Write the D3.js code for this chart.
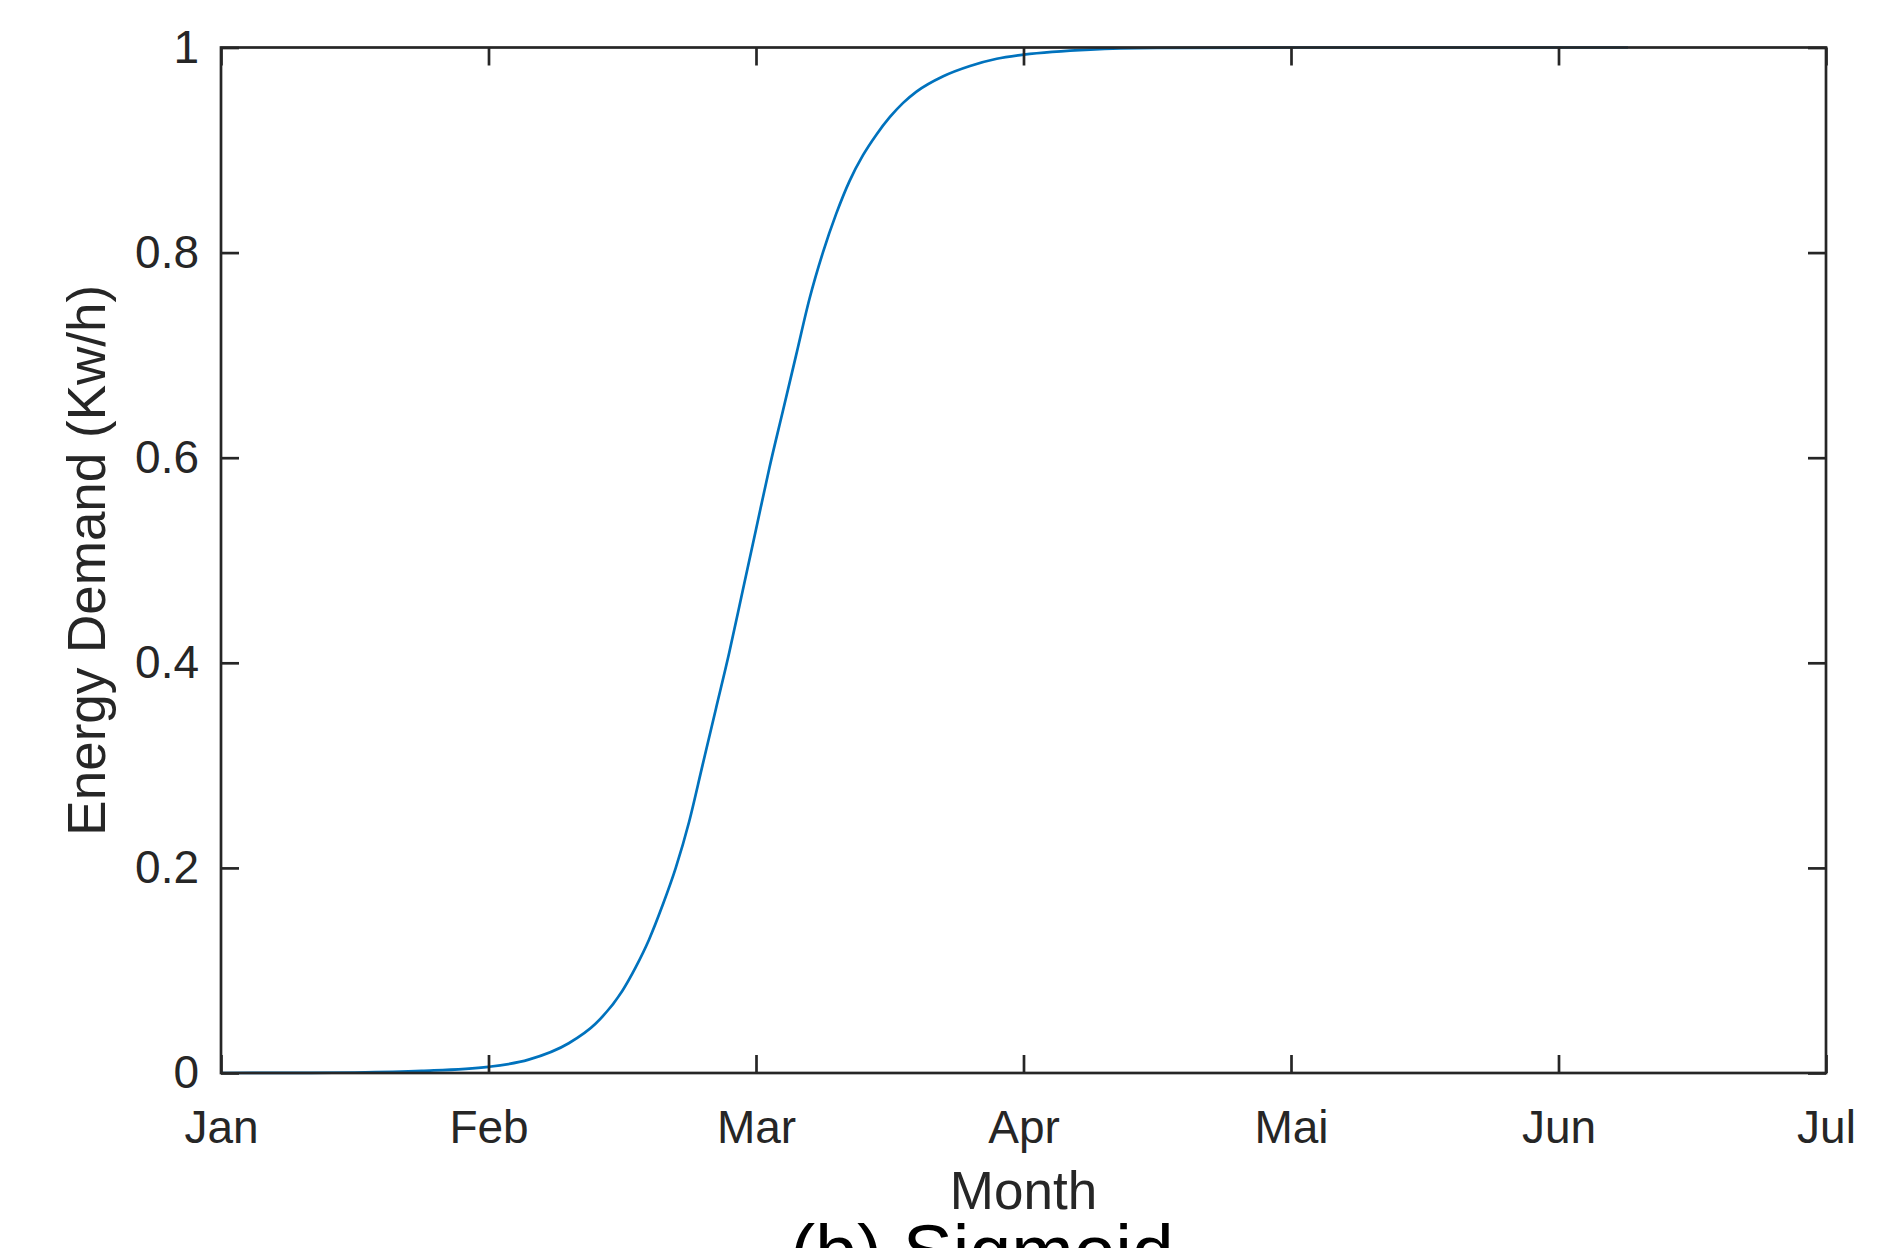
<!DOCTYPE html>
<html>
<head>
<meta charset="utf-8">
<script src="https://cdn.jsdelivr.net/npm/d3@7"></script>
<style>
	body { margin: 0; background: #fff; }
	svg text { font-family: "Liberation Sans", Arial, sans-serif; }
</style>
</head>
<body>
<div id="chart"></div>
<script>
	// values (x in months from Jan)
	var months = [0, 0.25, 0.5, 0.75, 1.0, 1.15, 1.3, 1.4, 1.5, 1.55, 1.6, 1.65, 1.7, 1.75, 1.8, 1.85, 1.9, 1.95, 2.0, 2.05, 2.1, 2.15, 2.2, 2.25, 2.3, 2.35, 2.4, 2.45, 2.5, 2.55, 2.6, 2.7, 2.8, 2.9, 3.0, 3.25, 3.5, 4.0, 4.5, 5.0, 5.26];
	var demand = [0, 0.0001, 0.0005, 0.002, 0.006, 0.013, 0.029, 0.048, 0.08, 0.103, 0.13, 0.163, 0.2, 0.245, 0.3, 0.355, 0.41, 0.47, 0.53, 0.59, 0.645, 0.7, 0.755, 0.8, 0.838, 0.87, 0.895, 0.915, 0.932, 0.946, 0.957, 0.972, 0.982, 0.989, 0.993, 0.998, 0.9995, 1, 1, 1, 1];
	var monthLabels = ["Jan", "Feb", "Mar", "Apr", "Mai", "Jun", "Jul"];
	var yTicks = [0, 0.2, 0.4, 0.6, 0.8, 1];

	var W = 1904, H = 1248,
		margin = {t: 47.5, r: 78, b: 175, l: 221},
		w = W - margin.l - margin.r,
		h = H - margin.t - margin.b,
		ink = "#262626";

	var x = d3.scaleLinear().domain([0, 6]).range([0, w]),
		y = d3.scaleLinear().domain([0, 1]).range([h, 0]);

	var svg = d3.select("#chart").append("svg")
		.attr("width", W)
		.attr("height", H);

	var g = svg.append("g").attr("transform", "translate(" + margin.l + "," + margin.t + ")");

	// data line
	var data = months.map(function(m, i) { return {m: m, v: demand[i]}; });
	var line = d3.line()
		.x(function(d) { return x(d.m); })
		.y(function(d) { return y(d.v); })
		.curve(d3.curveMonotoneX);

	g.append("path")
		.datum(data)
		.attr("d", line)
		.attr("fill", "none")
		.attr("stroke", "#0072BD")
		.attr("stroke-width", 2.7);

	// axes, ticks pointing inward
	var tickLen = -18;
	var xb = g.append("g").attr("transform", "translate(0," + h + ")")
		.call(d3.axisBottom(x).tickValues(d3.range(7)).tickFormat(function(d) { return monthLabels[d]; })
			.tickSize(tickLen).tickSizeOuter(0).tickPadding(37));
	var xt = g.append("g")
		.call(d3.axisTop(x).tickValues(d3.range(7)).tickFormat("").tickSize(tickLen).tickSizeOuter(0));
	var yl = g.append("g")
		.call(d3.axisLeft(y).tickValues(yTicks).tickFormat(d3.format("~g"))
			.tickSize(tickLen).tickSizeOuter(0).tickPadding(22));
	var yr = g.append("g").attr("transform", "translate(" + w + ",0)")
		.call(d3.axisRight(y).tickValues(yTicks).tickFormat("").tickSize(tickLen).tickSizeOuter(0));

	[xb, xt, yl, yr].forEach(function(a) {
		a.select(".domain").remove();
		a.selectAll("line").attr("stroke", ink).attr("stroke-width", 2.7);
		a.selectAll("text").attr("fill", ink).style("font-size", "46px");
	});

	// frame
	g.append("rect")
		.attr("width", w)
		.attr("height", h)
		.attr("fill", "none")
		.attr("stroke", ink)
		.attr("stroke-width", 2.7);

	// labels
	svg.append("text")
		.attr("x", margin.l + w / 2)
		.attr("y", 1209)
		.attr("text-anchor", "middle")
		.attr("fill", ink)
		.style("font-size", "53px")
		.text("Month");

	svg.append("text")
		.attr("transform", "translate(105," + (margin.t + h / 2) + ") rotate(-90)")
		.attr("text-anchor", "middle")
		.attr("fill", ink)
		.style("font-size", "53px")
		.text("Energy Demand (Kw/h)");

	svg.append("text")
		.attr("x", 982)
		.attr("y", 1277)
		.attr("text-anchor", "middle")
		.attr("fill", "#000")
		.style("font-size", "75px")
		.text("(b) Sigmoid");
</script>
</body>
</html>
